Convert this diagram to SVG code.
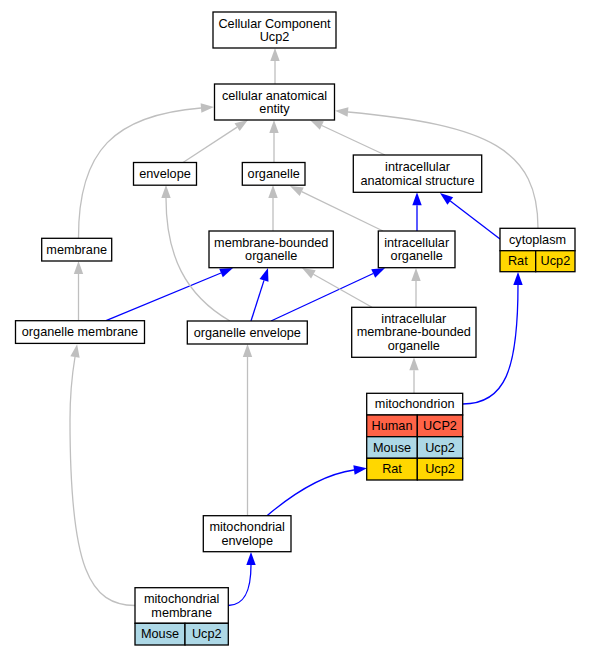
<svg xmlns="http://www.w3.org/2000/svg" width="591" height="656" viewBox="0 0 591 656">
<style>
.n{fill:#fff;stroke:#000;stroke-width:1.3}
.t{font-family:"Liberation Sans",Arial,sans-serif;font-size:12.7px;fill:#000;text-anchor:middle}
.g{fill:none;stroke:#bfbfbf;stroke-width:1.3;marker-end:url(#ag)}
.b{fill:none;stroke:#0000ff;stroke-width:1.3;marker-end:url(#ab)}
.hu{fill:#ff6347}
.mo{fill:#add8e6}
.ra{fill:#ffd700}
</style>
<defs>
<marker id="ag" markerUnits="userSpaceOnUse" markerWidth="13" markerHeight="9.4" viewBox="0 0 13 9.4" refX="0" refY="4.7" orient="auto" overflow="visible"><path d="M0,0 L13,4.7 L0,9.4 z" fill="#bfbfbf"/></marker>
<marker id="ab" markerUnits="userSpaceOnUse" markerWidth="13" markerHeight="9.4" viewBox="0 0 13 9.4" refX="0" refY="4.7" orient="auto" overflow="visible"><path d="M0,0 L13,4.7 L0,9.4 z" fill="#0000ff"/></marker>
</defs>
<rect width="591" height="656" fill="#fff"/>
<g id="edges">
<path class="g" d="M275,84 L275,61"/>
<path class="g" d="M183,162.5 L237.1,127.1"/>
<path class="g" d="M274,162.5 L274,133"/>
<path class="g" d="M385,155 L321.8,125.5"/>
<path class="g" d="M78.5,238.3 C78,150 115,115 201,108"/>
<path class="g" d="M538,228.3 C538,150 490,125 348,112"/>
<path class="g" d="M273,231 L273,198"/>
<path class="g" d="M383,231 L301.7,191.7"/>
<path class="b" d="M417,231 L417,205.3"/>
<path class="b" d="M500,239 L450.3,200.9"/>
<path class="g" d="M78.5,320.7 L78.5,274"/>
<path class="b" d="M106,320.7 L221,273"/>
<path class="b" d="M251,321 L264,280.4"/>
<path class="b" d="M271,321 L373.2,273.5"/>
<path class="g" d="M230,321 C185,295 166,255 166,198"/>
<path class="g" d="M372,307.3 L313.4,274.3"/>
<path class="g" d="M416,307.3 L416,281"/>
<path class="g" d="M414,393.3 L414,370.3"/>
<path class="b" d="M462.7,404 C505,404 518,370 518,285"/>
<path class="g" d="M247.5,515.7 L247.5,357"/>
<path class="b" d="M267,515.7 C295,492 325,474 354,470"/>
<path class="g" d="M135,605.5 C90,605 70,570 70,420 C70,395 72,375 75,357"/>
<path class="b" d="M228.3,605.5 C245,605 251,590 251,565"/>
</g>
<g id="cc"><rect class="n" x="213" y="12" width="123" height="36"/><text class="t" x="274.5" y="27.5">Cellular Component</text><text class="t" x="274.5" y="41">Ucp2</text></g>
<g id="cae"><rect class="n" x="214.5" y="84" width="120" height="36"/><text class="t" x="274.5" y="99.5">cellular anatomical</text><text class="t" x="274.5" y="113">entity</text></g>
<g id="envelope"><rect class="n" x="133.5" y="162.5" width="63" height="22.7"/><text class="t" x="165" y="178">envelope</text></g>
<g id="organelle"><rect class="n" x="242.3" y="162.5" width="62.7" height="22.7"/><text class="t" x="273.7" y="178">organelle</text></g>
<g id="ias"><rect class="n" x="353.3" y="155" width="128.4" height="37.3"/><text class="t" x="417.5" y="171.2">intracellular</text><text class="t" x="417.5" y="184.7">anatomical structure</text></g>
<g id="membrane"><rect class="n" x="41.7" y="238.3" width="70" height="22.7"/><text class="t" x="76.7" y="254">membrane</text></g>
<g id="mbo"><rect class="n" x="209" y="231" width="124.3" height="36.7"/><text class="t" x="271.2" y="246.8">membrane-bounded</text><text class="t" x="271.2" y="260.3">organelle</text></g>
<g id="io"><rect class="n" x="378.3" y="231" width="76.7" height="36.7"/><text class="t" x="416.7" y="246.8">intracellular</text><text class="t" x="416.7" y="260.3">organelle</text></g>
<g id="cytoplasm"><rect class="n" x="500" y="228.3" width="75" height="22.4"/><rect class="n ra" x="500" y="250.7" width="35.7" height="21"/><rect class="n ra" x="535.7" y="250.7" width="39.3" height="21"/><text class="t" x="537.5" y="243.8">cytoplasm</text><text class="t" x="517.8" y="265.4">Rat</text><text class="t" x="555.4" y="265.4">Ucp2</text></g>
<g id="om"><rect class="n" x="15.5" y="320.7" width="129" height="22.7"/><text class="t" x="80" y="336.3">organelle membrane</text></g>
<g id="oe"><rect class="n" x="187.3" y="321" width="120" height="23"/><text class="t" x="247.3" y="336.7">organelle envelope</text></g>
<g id="imbo"><rect class="n" x="351.7" y="307.3" width="124.3" height="50"/><text class="t" x="413.8" y="322.5">intracellular</text><text class="t" x="413.8" y="336">membrane-bounded</text><text class="t" x="413.8" y="349.5">organelle</text></g>
<g id="mito"><rect class="n" x="366.7" y="393.3" width="96" height="21.7"/><rect class="n hu" x="366.7" y="415" width="50.6" height="21.7"/><rect class="n hu" x="417.3" y="415" width="45.4" height="21.7"/><rect class="n mo" x="366.7" y="436.7" width="50.6" height="21.6"/><rect class="n mo" x="417.3" y="436.7" width="45.4" height="21.6"/><rect class="n ra" x="366.7" y="458.3" width="50.6" height="21.7"/><rect class="n ra" x="417.3" y="458.3" width="45.4" height="21.7"/><text class="t" x="414.7" y="408.4">mitochondrion</text><text class="t" x="392" y="430">Human</text><text class="t" x="440" y="430">UCP2</text><text class="t" x="392" y="451.7">Mouse</text><text class="t" x="440" y="451.7">Ucp2</text><text class="t" x="392" y="473.3">Rat</text><text class="t" x="440" y="473.3">Ucp2</text></g>
<g id="me"><rect class="n" x="203.3" y="515.7" width="87.7" height="36"/><text class="t" x="247.2" y="531.2">mitochondrial</text><text class="t" x="247.2" y="544.7">envelope</text></g>
<g id="mm"><rect class="n" x="135" y="587.7" width="93.3" height="35.6"/><rect class="n mo" x="135" y="623.3" width="50" height="21.7"/><rect class="n mo" x="185" y="623.3" width="43.3" height="21.7"/><text class="t" x="181.7" y="603">mitochondrial</text><text class="t" x="181.7" y="616.5">membrane</text><text class="t" x="160" y="638.3">Mouse</text><text class="t" x="206.7" y="638.3">Ucp2</text></g>
</svg>
